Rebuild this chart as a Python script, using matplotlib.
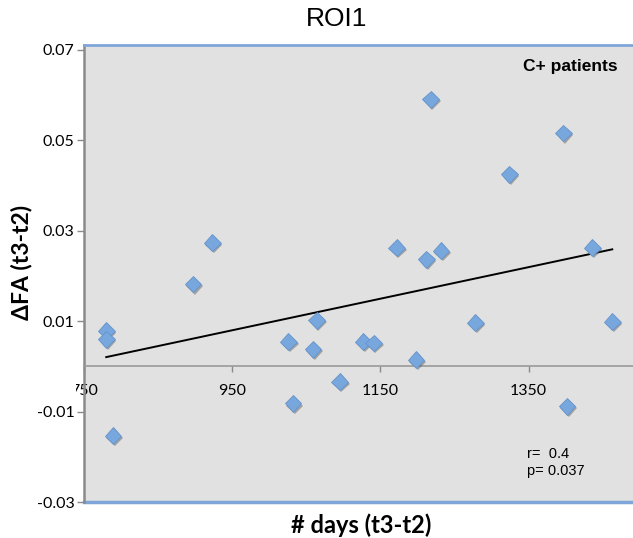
import numpy as np
import matplotlib
matplotlib.use("Agg")
import matplotlib.pyplot as plt
import matplotlib.patheffects as pe
from matplotlib.transforms import Bbox, TransformedBbox, IdentityTransform

# data
days = [780, 780, 789, 897, 923, 1026, 1032, 1059, 1064, 1095, 1127, 1141,
        1172, 1198, 1212, 1218, 1232, 1278, 1324, 1397, 1402, 1436, 1463]
dfa = [0.0079, 0.0060, -0.0153, 0.0182, 0.0274, 0.0055, -0.0082, 0.0038,
       0.0102, -0.0034, 0.0055, 0.0052, 0.0263, 0.0015, 0.0237, 0.0591,
       0.0256, 0.0097, 0.0425, 0.0516, -0.0088, 0.0263, 0.0099]
xticks = [750, 950, 1150, 1350]
yticks = [-0.03, -0.01, 0.01, 0.03, 0.05, 0.07]
ytick_labels = ["-0.03", "-0.01", "0.01", "0.03", "0.05", "0.07"]

calibri = ["Lato", "Open Sans", "DejaVu Sans"]
arial = ["Liberation Sans", "DejaVu Sans"]
blue_border = "#7fa6d8"
gray = "#8a8a8a"

fig = plt.figure(figsize=(6.33, 5.38), dpi=100)
ax = fig.add_axes([84/633, 1 - 502/538, 1 - 84/633, (502 - 45)/538])
ax.set_facecolor("#e1e1e1")

x = np.array(days, dtype=float)
y = np.array(dfa)
ax.plot(x, y, linestyle="none", marker="D", markersize=8.5,
        markerfacecolor="#78a7de", markeredgecolor="#6393cc", markeredgewidth=0.6,
        zorder=3,
        path_effects=[pe.SimplePatchShadow(offset=(1.2, -1.5), shadow_rgbFace="#555555", alpha=0.45),
                      pe.Normal()])

# linear trendline
k, b = np.polyfit(x, y, 1)
xl = np.array([x.min(), x.max()])
ax.plot(xl, k * xl + b, color="black", lw=1.4, zorder=2)

ax.set_xlim(750, 1491)
ax.set_ylim(-0.03, 0.0711)

# spines
ax.spines["right"].set_visible(False)
ax.spines["top"].set_color(blue_border)
ax.spines["top"].set_linewidth(2)
ax.spines["left"].set_color(gray)
ax.spines["left"].set_linewidth(1.8)
ax.spines["bottom"].set_position(("data", 0))
ax.spines["bottom"].set_color("#9a9a9a")
ax.spines["bottom"].set_linewidth(1.2)
ax.plot([0, 1], [0, 0], transform=ax.transAxes, color=blue_border, lw=2.5, clip_on=False)

ax.set_xticks(xticks)
ax.set_xticklabels([str(t) for t in xticks])
ax.set_yticks(yticks)
ax.set_yticklabels(ytick_labels)
ax.tick_params(axis="x", direction="out", length=4, width=1, color=gray, pad=9,
               labelsize=11.5)
ax.tick_params(axis="y", direction="out", length=5, width=1, color=gray, pad=2,
               labelsize=11.5)
for lbl in ax.get_xticklabels() + ax.get_yticklabels():
    lbl.set_fontfamily(calibri)

# the 750 label is cut off at the left in the reference
clip = TransformedBbox(Bbox.from_extents(76, 0, 633, 538), IdentityTransform())
for lbl in ax.get_xticklabels():
    lbl.set_clip_on(True)
    lbl.set_clip_box(clip)

fig.text(337/633, 1 - 19/538, "ROI1", ha="center", va="center", fontsize=19,
         family=arial)
ax.text(0.972, 0.953, "C+ patients", transform=ax.transAxes, ha="right", va="center",
        fontsize=12.5, fontweight="bold", family=arial)
ax.text(1348, -0.0213, "r=  0.4\np= 0.037", ha="left", va="center",
        fontsize=10.5, family=arial, linespacing=1.25)

fig.text(361/633, 1 - 525/538, "# days (t3-t2)", ha="center", va="center",
         fontsize=17, fontweight="bold", family=calibri)
fig.text(22/633, 1 - 262/538, "ΔFA (t3-t2)", ha="center", va="center", rotation=90,
         fontsize=16.5, fontweight="bold", family=calibri)

fig.savefig("out.png", dpi=100)
